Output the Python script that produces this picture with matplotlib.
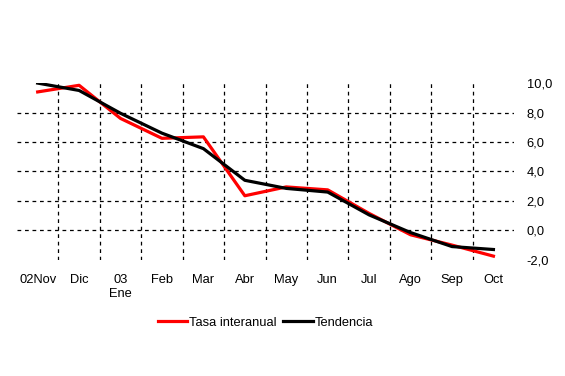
import matplotlib
matplotlib.use("Agg")
import matplotlib.pyplot as plt
import numpy as np

plt.rcParams['font.family'] = ['Liberation Sans', 'DejaVu Sans']

months = ["02Nov", "Dic", "03\nEne", "Feb", "Mar", "Abr", "May", "Jun", "Jul", "Ago", "Sep", "Oct"]
tasa = [9.4, 9.85, 7.6, 6.25, 6.35, 2.35, 2.95, 2.75, 1.15, -0.3, -1.0, -1.75]
tendencia = [10.0, 9.5, 7.95, 6.6, 5.55, 3.4, 2.85, 2.6, 1.05, -0.15, -1.1, -1.3]
yticks = [-2, 0, 2, 4, 6, 8, 10]
ytick_labels = ["-2,0", "0,0", "2,0", "4,0", "6,0", "8,0", "10,0"]

fs = 9.3
fig = plt.figure(figsize=(5.65, 3.76), dpi=100)
ax = fig.add_axes([0.030, 0.309, 0.880, 0.470])

x = np.arange(len(months))
ax.set_xlim(-0.5, len(months) - 0.5)
ax.set_ylim(-2, 10)

grid_kw = dict(color="black", linewidth=0.9, linestyle=(0, (3, 3)), zorder=1)
for yv in yticks[1:-1]:
    ax.axhline(yv, **grid_kw)
for xv in x[:-1] + 0.5:
    ax.axvline(xv, **grid_kw)

ax.plot(x, tasa, color="#ff0000", linewidth=2.3, label="Tasa interanual", zorder=3)
ax.plot(x, tendencia, color="black", linewidth=2.3, label="Tendencia", zorder=4)

for s in ax.spines.values():
    s.set_visible(False)

ax.set_xticks(x)
ax.set_xticklabels(months, fontsize=fs, linespacing=1.2)
ax.tick_params(axis="x", length=0, pad=10.5)
ax.yaxis.tick_right()
ax.set_yticks(yticks)
ax.set_yticklabels(ytick_labels, fontsize=fs)
ax.tick_params(axis="y", length=0, pad=9)

fig.legend(loc="center", bbox_to_anchor=(0.47, 0.141), ncol=2, frameon=False,
           fontsize=fs, handlelength=2.3, handletextpad=0.15, columnspacing=0.5)

fig.savefig("out.png", dpi=100)
